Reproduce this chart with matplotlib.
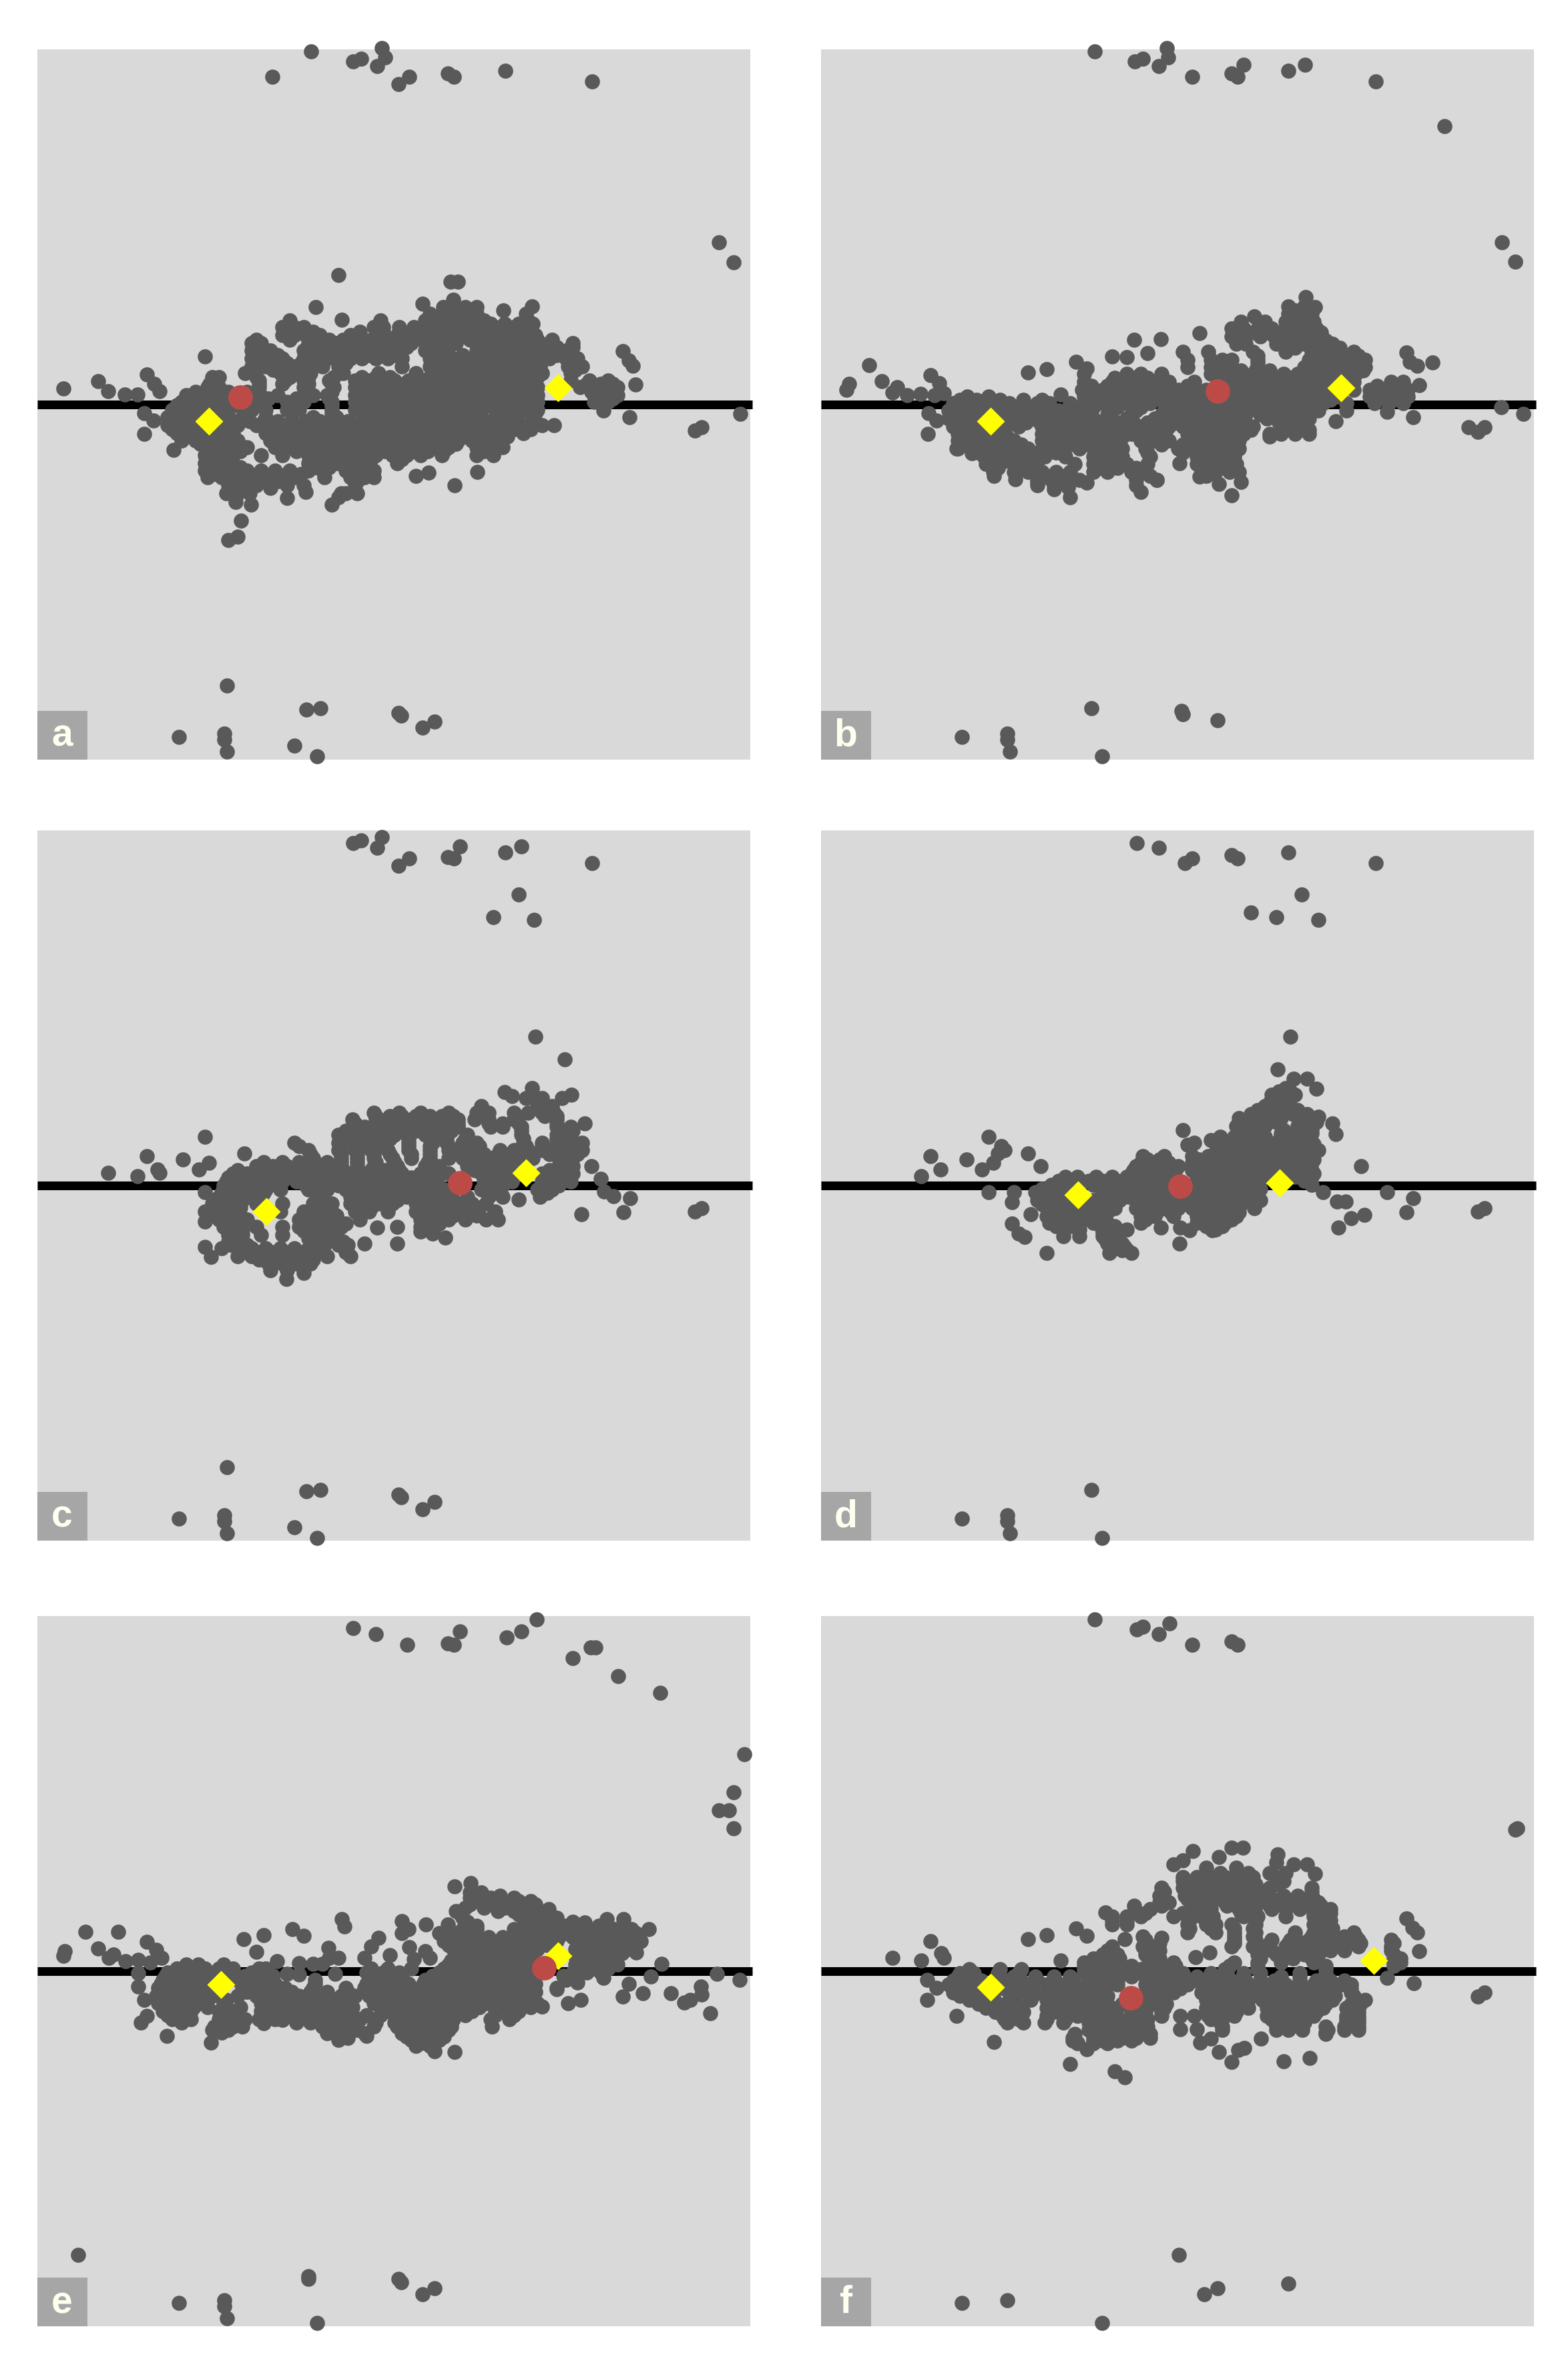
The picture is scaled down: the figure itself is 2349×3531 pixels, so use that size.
import matplotlib
matplotlib.use("Agg")
import matplotlib.pyplot as plt
from matplotlib.patches import Rectangle

# ---- readings: "rows"/"fill" are (height, [x positions]) in crop units, "iso" are lone dots
# in crop units, "out" are the far dots read in preview pixels.
a_origin = (22, 677)
a_iso = [(664,95),(1508,38),(904,125),(920,125),(616,238),(844,225),(1078,237),(1017,253),(672,297),(380,460),(78,605),(152,573),(173,618),(208,632),(236,632),(256,543),(272,585),(283,618),(250,717),(270,750),(250,808),(312,880),(1272,437),(1285,480),(1293,503),(1299,588),(1231,705),(1286,733),(1425,793),(1440,778),(1522,718),(457,1200),(450,1272),(430,1285),(650,1128),(913,1040),(961,980),(830,997),(857,983),(555,1097),(595,1070),(520,1052),(478,1128),(445,1115)]
a_rows = [
(205,[910]),(240,[888,912,935,960]),(270,[860,885,910,935,960,1065]),(300,[560,755,850,875,900,925,950,975,1070]),
(330,[545,570,590,740,760,795,825,850,880,905,930,955,985,1010,1040,1075]),
(365,[545,570,595,625,690,745,790,815,840,865,890,915,940,965,990,1015,1040,1065,1085]),
(400,[480,500,600,630,660,690,715,740,770,795,820,850,915,960,990,1015,1040,1065,1085,1115,1165]),
(435,[480,520,590,615,640,665,690,715,740,770,800,850,880,960,990,1020,1050,1080,1115,1150]),
(470,[480,510,545,590,615,640,665,690,715,745,770,800,860,885,910,935,960,990,1030,1060,1085,1115,1150,1175]),
(505,[480,510,540,570,600,630,665,800,860,890,920,950,980,1010,1040,1070,1095,1155,1185]),
(535,[465,540,575,605,675,750,830,890,920,950,985,1015,1045,1075,1100,1160]),
(570,[400,495,550,590,645,700,730,760,785,815,850,880,930,960,990,1020,1050,1080,1160,1200,1240]),
(600,[385,410,495,590,655,700,730,760,790,820,850,910,940,970,1000,1030,1060,1090,1180,1210,1240,1260]),
(635,[340,385,415,460,495,535,610,640,700,730,760,790,820,850,880,910,940,970,1000,1030,1060,1090,1215,1245,1260]),
(665,[330,360,390,420,460,500,555,590,650,700,730,760,790,820,850,880,910,940,970,1000,1030,1060,1090,1210,1240]),
(700,[310,340,370,400,430,480,510,555,580,650,700,730,760,790,820,850,880,910,940,970,1000,1030,1060,1090]),
(735,[300,330,360,400,430,460,510,610,660,730,760,790,820,850,880,910,950,1000,1040,1080]),
(770,[300,330,360,420,450,490,520,550,580,610,640,670,700,730,760,790,820,850,880,910,940,970,1000,1030,1060,1100,1125]),
(805,[320,350,380,410,440,510,540,570,600,630,660,690,720,750,780,810,840,870,900,930,960,990,1020,1060]),
(840,[330,360,390,420,450,520,550,580,610,640,680,710,740,770,800,830,860,890,920,950,980,1010]),
(870,[380,410,440,470,530,560,590,620,650,680,710,740,780,810,840,870,900,960,990,1015]),
(905,[380,410,440,500,545,600,630,660,690,720,745,780,810,840,885,960,995]),
(940,[380,410,440,600,630,660,690,720,790]),
(975,[380,410,440,470,500,530,560,600,630,680,710,740]),
(1005,[385,415,445,480,510,540,570,635,690,720,740]),
(1040,[430,460,490,520,555,590,700]),(1075,[425,450,475,670,680,705]),(1095,[445,665])]
a_fill = [
(315,[865,890,915,940,965,990,1020,1050,1080]),
(350,[560,610,710,760,800,830,860,890,920,950,980,1010,1040,1070]),
(385,[490,560,615,645,675,705,735,760,790,815,845,880,945,975,1005,1035,1060,1090,1120]),
(420,[495,605,630,655,680,705,730,755,785,810,860,900,975,1005,1035,1065,1095,1130,1165]),
(455,[495,535,600,630,655,680,705,730,760,785,870,900,930,975,1005,1040,1070,1100,1130,1165]),
(490,[495,530,555,585,610,680,875,905,935,965,995,1025,1055,1085,1170]),
(520,[480,525,560,590,875,905,935,965,1000,1030,1060,1090,1170]),
(555,[395,410,490,560,600,655,715,745,775,860,905,935,965,1000,1030,1060,1090]),
(585,[390,495,545,600,650,715,745,775,805,835,895,925,955,985,1015,1045,1075,1195,1225,1250]),
(620,[360,400,430,470,495,600,650,715,745,775,805,835,865,895,925,955,985,1015,1045,1075,1205,1230,1255]),
(650,[345,375,405,440,480,515,575,645,715,745,775,805,835,865,895,925,955,985,1015,1045,1075,1225,1250]),
(680,[320,350,380,410,450,495,565,650,715,745,775,805,835,865,895,925,955,985,1015,1045,1075]),
(715,[320,350,385,415,470,650,715,745,775,805,835,865,895,925,965,1015,1050,1085]),
(752,[315,345,380,410,440,475,505,535,565,595,625,655,685,715,745,775,805,835,865,895,925,955,985,1015,1045,1080]),
(788,[310,340,370,400,430,525,555,585,615,645,675,705,735,765,795,825,855,885,915,945,975,1005,1040,1075]),
(822,[345,375,405,435,530,565,595,625,655,695,725,755,785,815,845,875,905,935,965,995,1025]),
(855,[370,400,430,540,570,600,630,665,695,725,755,795,825,855,885,915,975,1005]),
(888,[395,425,455,575,610,640,670,700,730,765,795,825,855,890,975]),
(922,[395,425,615,645,675,705,735,800]),
(958,[395,425,455,615,645,695,725]),
(990,[400,430,465,495,525,555,585,695,725]),
(1022,[440,470,500,535,705])]
a_out = [(181,51),(207,34),(235,41),(240,39),(251,44),(254,32),(256,38),(265,56),(272,51),(298,49),(302,51),(336,47),(394,54),(478,161),(151,456),(119,490),(149,488),(149,492),(151,500),(196,496),(204,472),(213,471),(211,503),(265,474),(267,476),(281,484),(289,480)]
a_red = [(160,264)]
a_yellow = [(139,280),(371,258)]

b_origin = (28, 557)
b_iso = [(1063,75),(1083,120),(953,160),(836,235),(697,265),(753,263),(725,325),(650,340),(680,345),(470,412),(510,397),(573,365),(595,395),(130,380),(88,465),(82,490),(157,453),(190,480),(180,503),(212,515),(240,510),(262,425),(280,462),(290,505),(270,515),(257,597),(275,630),(256,688),(317,755),(350,775),(1127,632),(1237,590),(1292,615),(1410,660),(1430,680),(1445,660),(1480,570),(1527,600),(1278,322),(1285,365),(1300,383),(1334,368),(1305,470),(540,513),(560,975),(710,950),(905,965),(925,905),(878,915),(793,820),(836,880),(525,937),(490,905),(442,893),(397,878),(595,907),(745,895),(555,930),(1070,670),(1040,680),(985,700)]
b_rows = [
(115,[1025,1060]),(150,[1025,1050,1075]),(185,[925,975,1020,1050,1080]),(215,[905,930,960,990,1020,1050,1085]),
(250,[905,935,965,995,1025,1055,1085]),(285,[915,935,1000,1030,1060,1090,1120]),
(320,[800,855,950,1020,1075,1105,1135,1165]),(355,[810,860,885,905,960,1070,1100,1130,1160,1190]),
(390,[810,860,880,905,960,1060,1090,1120,1150,1190]),
(420,[590,680,710,755,860,890,920,950,980,1015,1045,1075,1105,1135,1170]),
(455,[590,650,680,710,740,770,825,890,920,950,980,1010,1040,1070,1100,1130,1165,1245,1270]),
(490,[585,630,660,690,720,750,790,820,850,880,910,940,970,1000,1030,1060,1100,1130,1165,1200,1230,1260,1280]),
(520,[340,385,590,620,650,680,710,740,770,800,830,860,890,920,950,980,1010,1040,1070,1100,1130,1200,1230,1260,1280]),
(550,[310,340,370,400,430,460,490,515,560,590,630,680,730,760,790,820,850,880,910,940,970,1000,1030,1070,1100,1150,1210,1240,1270]),
(585,[300,330,360,390,420,450,480,510,535,565,650,700,760,790,820,850,880,910,940,970,1000,1030,1060,1090,1150]),
(620,[300,330,360,420,450,480,510,540,575,610,680,740,770,800,830,860,890,920,980,1010,1040,1070]),
(655,[310,340,370,420,450,500,530,560,590,620,650,680,710,740,770,800,830,860,890,920,950,1030,1060]),
(690,[320,350,380,410,500,530,560,590,620,650,690,720,750,810,840,870,900,930,985,1010,1040,1070]),
(720,[320,350,380,410,440,500,530,560,590,620,650,710,740,770,830,860,890,920]),
(755,[320,350,380,410,440,470,505,545,580,610,640,670,720,790,820,850,880,920]),
(790,[375,405,435,465,505,550,610,640,670,730,830,860,890,910]),
(825,[380,410,440,470,570,610,640,680,725,830,860,890,915]),
(860,[395,440,470,500,530,560,610,640,690,720,840,870,900,920]),
(895,[490,520,550,580,700,745]),(920,[490,525,555,700])]
b_fill = [
(135,[1040,1065]),(170,[1035,1065]),(200,[1035,1065]),(232,[920,950,980,1010,1040,1070,1095]),(268,[920,1010,1045,1075,1105]),
(303,[1040,1075,1105,1135]),(338,[960,1085,1115,1145,1175]),(372,[865,895,960,1085,1115,1145,1175]),
(405,[870,895,925,955,985,1075,1105,1135,1165,1185]),
(438,[655,695,725,755,875,905,935,965,995,1030,1060,1090,1120,1150]),
(472,[605,640,665,695,725,755,810,875,905,935,965,995,1025,1055,1085,1115,1150,1215,1260]),
(505,[610,640,675,705,735,765,805,835,865,895,925,955,985,1015,1045,1085,1115,1215,1245,1270]),
(535,[325,360,410,460,500,605,635,665,695,725,755,785,815,845,875,905,935,965,995,1025,1055,1085,1115,1215,1245,1265]),
(568,[320,350,380,410,440,470,505,580,610,660,710,775,805,835,865,895,925,955,985,1015,1045,1080]),
(603,[315,345,375,405,435,465,495,525,555,590,640,690,755,785,815,845,875,905,935,965,1000,1035,1065]),
(638,[325,355,405,435,465,495,525,560,595,630,665,695,725,755,785,815,845,875,905,935,1005,1050]),
(672,[335,365,395,420,515,545,575,605,635,665,695,730,765,825,855,885,915,945,1045]),
(705,[335,365,395,425,515,545,575,605,635,670,725,755,825,855,885,915]),
(738,[335,365,395,425,455,515,560,605,635,660,725,755,800,845,875,905]),
(772,[365,395,425,455,490,530,625,655,725,800,840,870,900]),
(808,[395,425,455,490,625,655,845,875,900]),
(842,[405,450,490,625,660,700,845,880,910]),
(878,[490,520,550,700,730,850])]
b_out = [(728,34),(755,41),(760,39),(771,44),(776,32),(777,38),(793,51),(819,49),(823,51),(827,43),(857,47),(868,43),(915,54),(961,84),(999,161),(1008,174),(726,471),(640,490),(670,488),(670,492),(672,500),(733,503),(786,473),(787,475),(810,479)]
b_red = [(810,260)]
b_yellow = [(659,280),(892,258)]

c_origin = (22, 768)
c_iso = [(1085,100),(1148,202),(1020,347),(1035,365),(1078,330),(1100,375),(1142,375),(1162,360),(1190,490),(380,550),(256,635),(332,652),(388,665),(367,697),(278,695),(283,710),(173,710),(236,725),(464,623),(380,797),(380,930),(380,1045),(392,1090),(1205,680),(1225,737),(1232,795),(1252,815),(1287,825),(1273,887),(1183,898),(1425,885),(1440,870),(720,1030),(790,1030),(748,958),(790,955),(893,1003),(865,985),(840,975),(553,1187),(520,1150),(590,1160),(685,1070),(1050,830)]
c_rows = [
(375,[1065,1090]),(410,[970,1090,1120]),(440,[740,795,840,900,960,985,1040,1070,1100,1125]),
(470,[695,745,770,795,820,845,875,900,920,955,985,1040,1130]),
(505,[695,720,750,780,810,840,870,920,990,1015,1055,1130,1160]),
(540,[665,695,725,755,785,815,850,880,940,1055,1130,1160]),
(575,[570,665,700,735,765,815,865,895,930,960,1060,1100,1130,1160,1185]),
(610,[600,665,700,735,770,815,860,900,930,960,1010,1040,1070,1100,1130,1160,1185]),
(645,[610,670,705,740,780,820,860,900,930,960,990,1020,1050,1080,1135,1165]),
(680,[490,525,555,585,615,640,670,705,740,790,850,880,940,970,1000,1030,1135,1165]),
(715,[440,470,500,530,560,590,620,650,680,710,740,770,800,840,870,900,970,1000,1030,1100,1130,1165]),
(750,[425,455,485,515,545,575,605,635,665,695,725,755,785,815,845,875,975,1005,1035,1100,1130,1160]),
(785,[420,450,480,510,540,600,640,680,710,740,770,800,830,860,890,970,1000,1090,1120]),
(820,[410,440,470,500,620,690,720,750,780,810,840,870,900,940,985,1015,1095]),
(850,[395,425,455,490,545,610,650,690,720,750,780,830,860,890,920,950,980]),
(885,[380,410,440,540,590,620,650,700,730,770,830,860,890,920,950,1000]),
(920,[410,440,470,580,610,640,710,840,870,900,935,980,1005]),
(955,[420,450,490,545,580,610,650,670,840,870]),
(990,[430,460,500,545,620,650]),(1020,[430,460,610,640,675]),
(1050,[415,450,480,510,540,570,600,630,680]),(1085,[450,480,510,540,570,600,640,690]),
(1120,[515,545,575,605]),(1150,[555])]
c_fill = [
(455,[745,775,800,830,860,885,910,970,1045,1105,1130]),
(488,[700,760,790,820,850,880,920,985,1015,1050,1130]),
(522,[680,710,740,770,800,830,865,905,1055,1140,1165]),
(558,[670,715,745,775,815,860,895,935,1060,1130,1160]),
(592,[580,670,715,750,815,860,900,935,965,1065,1100,1130,1165]),
(628,[605,670,705,740,775,820,860,905,940,975,1005,1035,1065,1115,1150,1175]),
(662,[505,545,580,615,640,670,705,745,785,855,945,975,1005,1035,1150]),
(698,[450,490,525,555,585,615,645,675,705,735,765,795,860,955,985,1015,1115,1150]),
(732,[430,460,490,520,550,580,610,640,670,700,730,760,790,820,850,985,1015,1115,1145]),
(768,[420,450,480,510,535,595,630,665,695,725,755,785,815,845,875,985,1015,1105,1135]),
(802,[415,445,475,505,625,700,730,760,790,820,850,880,1000,1095,1110]),
(835,[400,430,460,630,700,730,760,790,855,885,910]),
(868,[395,425,455,610,640,705,735,845,875,905,935,965]),
(902,[400,425,455,600,630,660,710,850,880,910,960,995]),
(938,[420,450,590,620,650,680,845,880]),
(972,[430,460,590,625,660]),
(1005,[440,600,630,660]),
(1035,[435,470,605,635,665,685]),
(1068,[465,495,525,555,585,615,680]),
(1102,[495,525,560,590,610])]
c_out = [(235,561),(240,559),(251,564),(254,557),(265,576),(272,571),(298,570),(302,571),(306,563),(336,567),(347,563),(394,574),(345,595),(328,610),(355,612),(151,976),(119,1010),(149,1008),(149,1012),(151,1020),(196,1016),(204,992),(213,991),(211,1023),(265,994),(267,996),(281,1004),(289,999)]
c_red = [(306,787)]
c_yellow = [(177,806),(350,780)]

d_origin = (28, 768)
d_iso = [(1030,100),(1003,245),(1037,288),(1065,288),(1085,333),(1120,490),(1127,537),(800,518),(810,585),(825,575),(385,550),(413,590),(420,610),(405,625),(395,665),(372,697),(262,637),(338,652),(283,697),(242,725),(470,623),(497,682),(1181,680),(386,797),(440,797),(435,842),(485,797),(476,897),(435,940),(450,985),(463,1000),(510,1072),(643,1072),(670,1060),(690,1070),(1099,797),(1237,797),(1292,825),(1130,840),(1148,840),(1278,887),(1188,900),(1160,915),(1133,958),(1430,885),(1445,870),(793,1030),(753,958),(795,958),(815,970),(863,970),(953,870),(1090,610),(1075,520),(1090,460)]
d_rows = [
(330,[1020]),(360,[990,1015,1040]),(395,[985,1015]),(430,[960,985,1015,1045]),(465,[920,950,980,1010,1050,1075]),
(500,[915,940,975,1045,1075]),(535,[925,965,1010,1045,1075]),(565,[860,885,915,945,975,1005,1035,1060]),
(600,[890,920,950,980,1010,1040,1070]),(635,[715,760,820,855,890,920,950,980,1010,1040,1070]),
(665,[710,740,770,820,855,890,920,950,980,1010,1040,1075]),
(700,[695,725,755,785,820,850,880,910,940,970,1000,1030,1075]),
(730,[550,575,615,650,680,710,740,770,830,860,890,920,950,980,1040,1075]),
(765,[520,550,580,610,640,670,700,730,760,830,860,890,920,950,1075]),
(800,[490,520,640,670,700,730,760,830,860,890,920,950]),
(835,[490,520,550,610,640,665,700,730,760,790,820,850,880,910,940,965]),
(870,[510,540,570,600,630,655,700,730,760,790,820,850,880,910]),
(905,[510,540,570,600,625,710,740,780,830,860,890,915]),
(935,[515,545,575,610,640,710,830,860,890]),(965,[545,580,630,660,680,870]),(995,[545,580,630,660]),
(1030,[640,670]),(1055,[650,680])]
d_fill = [
(345,[1005,1030]),(378,[1000,1020]),(412,[975,1005,1030]),(448,[945,975,1005,1035,1065]),(482,[935,965,1000,1060,1085]),
(518,[925,1015,1060]),(550,[880,910,940,975,1015,1050,1065]),(582,[875,905,935,965,995,1025,1055,1080]),
(618,[870,905,935,965,995,1025,1055,1080]),(650,[725,750,835,870,905,935,965,995,1025,1055,1080]),
(682,[700,730,760,790,835,870,905,935,965,995,1025,1060]),
(715,[690,720,750,780,830,860,890,920,950,980,1010,1060,1080]),
(748,[535,565,600,630,660,690,720,750,780,845,875,905,935,965,1060]),
(782,[500,535,630,660,690,720,750,780,845,875,905,935,965]),
(818,[495,530,560,625,655,685,715,745,775,805,845,875,905,935,960]),
(852,[500,530,560,590,620,650,715,745,775,805,835,865,895,925]),
(888,[515,555,585,615,640,715,745,775,835,865,895,920]),
(920,[525,555,590,625,720,845,875,905]),(950,[530,560,625,655,850,885]),(980,[630,655]),(1012,[635,660]),(1042,[655,675])]
d_out = [(756,561),(771,564),(788,574),(793,571),(819,569),(823,571),(857,567),(915,574),(866,595),(832,607),(849,610),(877,612),(726,991),(640,1010),(670,1008),(670,1012),(672,1020),(733,1023)]
d_red = [(785,789)]
d_yellow = [(717,795),(851,787)]

e_origin = (22, 580)
e_iso = [(125,403),(195,403),(80,490),(78,510),(152,477),(185,505),(175,520),(210,535),(237,530),(256,447),(275,485),(287,520),(263,540),(490,492),(463,435),(505,418),(567,390),(590,420),(672,345),(678,378),(533,535),(580,545),(610,548),(630,548),(645,520),(665,520),(643,475),(555,593),(580,595),(658,593),(750,430),(735,470),(720,520),(775,507),(800,355),(815,390),(800,410),(816,472),(850,490),(860,520),(825,525),(852,370),(898,370),(912,200),(947,185),(1113,300),(1190,360),(1238,345),(1273,345),(1328,392),(1300,495),(1355,548),(1230,610),(1285,637),(1332,605),(1272,695),(1314,680),(1375,680),(1403,720),(1438,650),(1440,685),(1415,710),(1458,768),(1473,592),(1521,620),(1182,710),(1155,725),(1100,740),(1130,660),(1175,630),(298,870),(243,810),(255,780),(250,710),(237,650),(237,590),(392,900),(395,845),(415,855),(505,815),(545,800),(575,810),(605,810),(685,880),(725,870),(870,940),(912,942),(993,828),(830,895)]
e_rows = [
(225,[945,970]),(250,[945,990,1040]),(280,[945,975,1005,1035,1065,1085]),(310,[915,1005,1040,1070]),
(340,[930,1060,1090,1130]),(375,[960,1060,1090,1120,1150,1190,1220]),
(410,[880,910,940,1060,1090,1120,1150,1180,1210,1240,1270,1300]),
(445,[890,920,950,980,1010,1040,1070,1100,1130,1190,1220,1250,1280,1310]),
(480,[910,940,970,1000,1030,1060,1090,1170,1200,1230,1260,1290]),
(515,[920,950,980,1010,1040,1070,1170,1200,1230,1260]),
(550,[340,365,420,900,930,960,990,1020,1050,1070,1170,1200,1230,1260]),
(585,[300,330,360,390,430,480,515,725,760,795,880,920,950,980,1010,1040,1070,1165,1195,1225]),
(620,[290,320,350,380,450,480,515,615,730,760,790,850,880,910,940,970,1000,1030,1070,1150]),
(655,[280,310,340,370,460,490,520,550,610,680,720,750,780,810,840,870,900,930,960,990,1020,1050,1080,1130]),
(690,[275,305,335,365,395,450,490,520,550,580,610,640,670,700,730,760,790,820,850,880,910,940,970,1000,1030,1060,1080]),
(725,[280,310,340,370,420,500,530,560,590,620,650,680,740,770,800,830,860,890,920,950,980,1010,1040,1060,1090]),
(760,[290,320,350,410,440,500,530,590,620,650,680,770,800,830,860,890,920,950,1000,1030,1050]),
(795,[310,350,410,440,465,495,530,620,650,680,710,740,790,820,850,880,910,990,1030]),
(830,[400,440,460,630,660,700,740,790,820,850,880,905]),(860,[640,670,720,800,830,860,890]),
(890,[665,820,850,880]),(915,[830,860])]
e_fill = [
(240,[960,1010]),(265,[960,990,1020,1050,1075]),(295,[935,975,1020,1055,1085]),(325,[925,1050,1080,1110]),
(358,[940,1070,1100,1130,1165]),(392,[900,930,960,1040,1075,1105,1135,1165,1195,1225,1255,1290]),
(428,[895,925,955,985,1015,1045,1075,1105,1135,1165,1205,1235,1265,1295]),
(462,[900,930,960,990,1020,1050,1080,1110,1180,1210,1240,1270,1300]),
(498,[915,945,975,1005,1035,1065,1180,1210,1240,1270]),
(532,[905,935,965,995,1025,1055,1080,1185,1215,1245]),
(568,[320,350,380,410,440,495,510,735,770,820,890,935,965,995,1025,1055,1085,1180,1210,1240]),
(602,[295,325,355,385,465,500,525,740,770,800,865,895,925,955,985,1015,1045,1085,1145]),
(638,[285,315,345,375,465,495,530,615,725,755,785,815,845,875,905,935,965,995,1025,1055,1085]),
(672,[290,320,350,380,470,505,535,565,605,640,685,725,755,785,815,845,875,905,935,965,995,1025,1055,1085]),
(708,[295,325,355,385,425,505,535,565,595,625,655,685,745,775,805,835,865,895,925,955,985,1015,1045,1075]),
(742,[295,325,355,385,425,455,515,545,575,605,635,665,695,755,785,815,845,875,905,935,965,1005,1035,1075]),
(778,[300,335,415,445,510,540,570,600,635,665,695,725,755,785,815,845,875,905,935,1000,1040]),
(812,[330,420,450,640,670,705,745,785,815,845,875,905]),(845,[410,430,640,680,705,810,840,870,900]),
(875,[670,810,840,870,890]),(905,[840,870])]
e_out = [(235,1083),(250,1087),(271,1094),(298,1093),(302,1094),(306,1085),(337,1089),(347,1085),(357,1077),(381,1103),(393,1096),(396,1096),(411,1115),(439,1126),(495,1167),(488,1192),(478,1204),(485,1204),(488,1216),(52,1500),(119,1532),(149,1530),(149,1534),(151,1542),(205,1514),(205,1516),(211,1545),(265,1516),(267,1518),(281,1526),(289,1522)]
e_red = [(362,1309)]
e_yellow = [(147,1320),(371,1301)]

f_origin = (28, 760)
f_iso = [(1514,118),(822,220),(905,205),(928,205),(800,262),(780,280),(877,248),(1003,235),(1000,270),(1037,280),(1065,280),(1083,322),(635,497),(697,465),(470,615),(510,597),(573,568),(595,600),(677,615),(755,610),(262,625),(285,680),(290,700),(242,712),(180,700),(540,712),(255,798),(275,835),(255,888),(317,960),(397,1078),(560,1178),(655,1210),(677,1238),(905,1167),(878,1122),(918,1115),(932,1105),(1016,1165),(1071,1150),(967,1062),(1293,815),(1237,790),(1190,888),(1278,522),(1290,565),(1300,585),(1305,670),(1430,875),(1445,857),(795,1022),(860,1062),(837,1080),(830,1020),(595,1110),(575,1080),(858,675),(828,697),(1105,1035),(1055,1025)]
f_rows = [
(295,[850,915]),(320,[850,880,915,940,985,1020]),(355,[800,830,860,890,920,950,1015]),
(385,[755,800,830,860,890,920,950,985,1075]),(420,[750,805,835,865,895,925,955,985,1015,1045,1075]),
(450,[750,770,820,850,890,920,950,980,1010,1040,1070,1090]),(480,[730,830,860,920,950,990,1020,1050,1080,1115]),
(515,[650,680,710,780,810,840,865,930,960,1020,1080,1110]),(550,[650,680,810,850,870,905,955,1080,1110]),
(585,[810,870,910,955,1040,1080,1110,1165]),(620,[720,910,955,990,1030,1070,1110,1140,1175,1245]),
(650,[650,715,745,905,950,980,1020,1050,1080,1110,1140,1175,1245]),
(685,[630,660,720,745,960,1000,1030,1060,1090,1250]),(720,[590,625,660,740,780,910,960,1010,1080,1250,1265]),
(750,[345,410,455,590,620,650,680,710,740,770,890,960,1105]),
(785,[320,350,410,440,485,525,560,600,630,660,690,720,750,800,830,860,890,930,1010,1050,1105]),
(820,[300,330,360,410,440,470,510,540,570,600,630,660,720,750,780,810,840,870,900,930,960,990,1020,1050,1080,1110,1140,1160]),
(855,[310,340,370,430,465,510,540,570,600,630,720,750,780,840,870,900,930,960,990,1020,1050,1080,1110,1160]),
(890,[345,385,430,475,510,540,570,600,630,720,760,850,880,910,940,970,1000,1030,1060,1090,1120,1170]),
(925,[380,420,450,510,540,570,600,630,660,690,720,760,850,880,940,980,1010,1040,1070,1100,1150,1175]),
(960,[415,445,510,545,575,605,640,755,795,825,855,880,910,980,1010,1040,1080,1150,1175]),
(990,[425,460,505,545,600,630,660,690,720,880,1000,1030,1060,1150,1175]),
(1025,[600,630,660,690,720,885,1000,1025,1110,1145,1175]),(1060,[565,610,640,670,700,730]),(1085,[575,610,640])]
f_fill = [
(338,[800,830,860,890,920,950,1000]),(370,[805,835,865,895,925,955,1000]),(402,[760,810,840,870,900,930,960,1075]),
(436,[755,810,840,870,900,930,960,990,1020,1050,1080]),(465,[755,825,855,895,925,955,985,1015,1045,1075,1095]),
(498,[720,800,830,855,925,955,1080,1115]),(532,[650,680,815,860,955,1085,1115]),(568,[815,860,910,950,1085,1115,1120]),
(603,[715,910,950,1040,1075,1110,1145,1170]),(635,[720,750,910,955,985,1025,1060,1090,1120,1150,1180,1250]),
(668,[640,720,750,960,990,1020,1050,1085,1115,1145,1245]),(702,[610,640,665,735,750,965,1035,1075,1250,1265]),
(735,[590,625,660,690,725,755,785,900,960,1105,1250]),
(768,[325,355,405,450,590,620,650,680,710,740,770,800,860,895,930,965,1050,1105]),
(802,[310,340,370,425,455,490,525,565,600,630,660,725,755,785,815,845,875,905,935,965,995,1050,1085,1115,1145]),
(838,[315,345,420,450,480,515,545,575,605,635,735,765,795,850,880,910,940,970,1000,1030,1060,1090,1120,1160]),
(872,[325,365,395,440,480,520,550,580,610,640,735,765,855,885,915,945,975,1005,1035,1065,1095,1125,1165]),
(908,[365,405,445,520,550,580,610,640,670,700,735,765,860,890,920,985,1015,1045,1075,1105,1160,1180]),
(942,[400,430,460,525,555,585,615,645,690,720,755,860,890,915,990,1020,1050,1085,1155,1175]),
(975,[420,450,510,550,605,635,665,695,725,860,885,990,1020,1050,1150,1175]),
(1008,[610,640,670,700,725,885,1000,1030,1055,1105,1145,1175]),(1042,[570,610,640,670,700,730,1105]),(1072,[565,610,630,660,690])]
f_out = [(728,1077),(756,1084),(760,1082),(771,1087),(778,1080),(793,1094),(819,1092),(823,1094),(1008,1217),(784,1500),(640,1532),(670,1530),(733,1545),(801,1526),(810,1522),(857,1519)]
f_red = [(752,1329)]
f_yellow = [(659,1322),(914,1304)]

labels = ["a", "b", "c", "d", "e", "f"]

# ---- layout, in reference pixels
W, H = 2349, 3531
COLS = (56, 1230)
ROWS = (74, 1244, 2421)
PW, PH = 1068, 1064
CROP_X, CROP_Y = 1.425, 3.0      # crop units per reference pixel
PREVIEW = 2349 / 1043

panels = [
    (a_origin, a_iso, a_rows + a_fill, a_out, a_red, a_yellow),
    (b_origin, b_iso, b_rows + b_fill, b_out, b_red, b_yellow),
    (c_origin, c_iso, c_rows + c_fill, c_out, c_red, c_yellow),
    (d_origin, d_iso, d_rows + d_fill, d_out, d_red, d_yellow),
    (e_origin, e_iso, e_rows + e_fill, e_out, e_red, e_yellow),
    (f_origin, f_iso, f_rows + f_fill, f_out, f_red, f_yellow),
]

plt.rcParams["font.family"] = ["Liberation Sans", "DejaVu Sans"]
fig = plt.figure(figsize=(W / 100, H / 100), dpi=100, facecolor="white")

for i, (origin, iso, rows, out, red, yellow) in enumerate(panels):
    col, row = i % 2, i // 2
    left, top = COLS[col], ROWS[row]
    ax = fig.add_axes([left / W, 1 - (top + PH) / H, PW / W, PH / H], facecolor="#D9D9D9")
    ax.set_xlim(0, PW)
    ax.set_ylim(-PH / 2, PH / 2)
    ax.set_xticks([]); ax.set_yticks([])
    for s in ax.spines.values():
        s.set_visible(False)

    x0, y0 = origin
    pts = [(px, py) for py, xs in rows for px in xs] + list(iso)
    xs = [(p[0] - x0) / CROP_X for p in pts]
    ys = [(y0 - p[1]) / CROP_Y for p in pts]

    def prev(items):
        return ([sx * PREVIEW - left for sx, sy in items],
                [top + PH / 2 - sy * PREVIEW for sx, sy in items])

    ox, oy = prev(out)
    rx, ry = prev(red)
    yx, yy = prev(yellow)

    ax.axhline(0, xmin=0, xmax=1.003, color="black", lw=9.4, zorder=1, clip_on=False, solid_capstyle="butt")
    ax.scatter(xs + ox, ys + oy, s=265, color="#595959", linewidths=0, zorder=2, clip_on=False)
    ax.scatter(yx, yy, s=458, marker="D", color="#FFFF00", linewidths=0, zorder=3)
    ax.scatter(rx, ry, s=700, color="#BC4B47", linewidths=0, zorder=4)

    ax.add_patch(Rectangle((0, 0), 75 / PW, 73 / PH, transform=ax.transAxes,
                           facecolor="#A6A6A6", edgecolor="none", zorder=5))
    ax.text(37 / PW, 35 / PH, labels[i], transform=ax.transAxes, ha="center", va="center",
            fontsize=41, fontweight="bold", color="#FFFFF0", zorder=6)

fig.savefig("out.png", dpi=100, facecolor="white")
